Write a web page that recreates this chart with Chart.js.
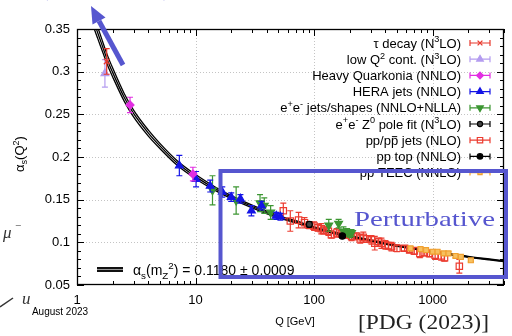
<!DOCTYPE html>
<html>
<head>
<meta charset="utf-8">
<script src="https://cdn.jsdelivr.net/npm/chart.js@4.4.0/dist/chart.umd.min.js"></script>
<style>
  html, body { margin: 0; padding: 0; background: #fff; }
  #wrap { position: relative; width: 512px; height: 336px; }
</style>
</head>
<body>
<div id="wrap"><canvas id="c" width="512" height="336"></canvas></div>
<script>
// ---- running coupling band: Q [GeV], central alpha_s, half width ----
const curveQ = [1.3, 1.4, 1.5, 1.6, 1.8, 2, 2.5, 3, 4, 5, 7, 10, 15, 20, 30, 50, 70, 100, 150, 200, 300, 500, 700, 1000, 1500, 2000, 3000, 4000];
const curveAlpha = [0.372, 0.357, 0.345, 0.334, 0.314, 0.299, 0.270, 0.251, 0.228, 0.213, 0.193, 0.177, 0.162, 0.153, 0.142, 0.130, 0.124, 0.117, 0.111, 0.107, 0.102, 0.096, 0.093, 0.089, 0.0855, 0.083, 0.080, 0.078];
const curveHalfWidth = [0.0075, 0.007, 0.0066, 0.0062, 0.0057, 0.0052, 0.0045, 0.004, 0.0035, 0.003, 0.0027, 0.0024, 0.002, 0.0018, 0.0016, 0.0014, 0.0013, 0.0012, 0.0011, 0.001, 0.0009, 0.0008, 0.0008, 0.0007, 0.0007, 0.0006, 0.0006, 0.0006];

// ---- measurements: scale Q [GeV], alpha_s, uncertainty ----
const tauQ = [1.78];
const tauAlpha = [0.312];
const tauErr = [0.015];

const lowQ2Q = [1.72];
const lowQ2Alpha = [0.298];
const lowQ2Err = [0.016];

const quarkoniaQ = [2.8, 9.5];
const quarkoniaAlpha = [0.261, 0.180];
const quarkoniaErr = [0.009, 0.008];

const heraQ = [7.3, 10.1, 13.3, 16.8, 20, 23.9, 29.6, 36, 48, 52];
const heraAlpha = [0.190, 0.174, 0.166, 0.159, 0.153, 0.151, 0.137, 0.143, 0.131, 0.130];
const heraErr = [0.012, 0.009, 0.007, 0.006, 0.005, 0.005, 0.006, 0.005, 0.004, 0.004];

const eeJetsQ = [13.9, 22, 35, 38, 43, 133, 161, 177, 190, 200, 207];
const eeJetsAlpha = [0.161, 0.149, 0.146, 0.143, 0.135, 0.120, 0.122, 0.113, 0.112, 0.110, 0.111];
const eeJetsErr = [0.017, 0.016, 0.010, 0.009, 0.008, 0.007, 0.005, 0.005, 0.004, 0.004, 0.004];

const zPoleQ = [91.2];
const zPoleAlpha = [0.121];
const zPoleErr = [0.003];

const ppJetsQ = [55, 63, 74, 83, 91, 100, 108, 115, 120, 132, 140, 155, 170, 188, 207, 228, 245, 260, 280, 305, 325, 350, 370, 400, 425, 450, 500, 580, 640, 700, 780, 850, 940, 1050, 1180, 1260, 1680];
const ppJetsAlpha = [0.137, 0.125, 0.126, 0.123, 0.120, 0.119, 0.117, 0.116, 0.114, 0.113, 0.109, 0.111, 0.110, 0.109, 0.107, 0.107, 0.104, 0.106, 0.104, 0.103, 0.099, 0.101, 0.099, 0.097, 0.096, 0.095, 0.093, 0.093, 0.091, 0.090, 0.087, 0.088, 0.087, 0.085, 0.084, 0.082, 0.072];
const ppJetsErr = [0.009, 0.012, 0.009, 0.006, 0.004, 0.005, 0.004, 0.006, 0.004, 0.005, 0.004, 0.005, 0.004, 0.004, 0.005, 0.004, 0.005, 0.006, 0.004, 0.005, 0.008, 0.004, 0.006, 0.005, 0.004, 0.005, 0.004, 0.003, 0.003, 0.004, 0.005, 0.004, 0.004, 0.005, 0.005, 0.004, 0.008];

const ppTopQ = [173];
const ppTopAlpha = [0.1075];
const ppTopErr = [0.002];

const teecQ = [650, 790, 880, 1000, 1100, 1240, 1360, 1560, 1730, 2100];
const teecAlpha = [0.093, 0.092, 0.091, 0.089, 0.089, 0.087, 0.087, 0.084, 0.083, 0.079];
const teecErr = [0.002, 0.002, 0.002, 0.002, 0.002, 0.002, 0.002, 0.002, 0.002, 0.002];

// ---- axes ----
const xTickValues = [1, 10, 100, 1000];
const xTickLabels = ['1', '10', '100', '1000'];
const yTickValues = [0.05, 0.1, 0.15, 0.2, 0.25, 0.3, 0.35];
const yTickLabels = ['0.05', '0.1', '0.15', '0.2', '0.25', '0.3', '0.35'];

// ---- legend rows (rich text segments: [text, kind]) ----
const legendLabels = [
  [['τ decay (N', 'n'], ['3', 'sup'], ['LO)', 'n']],
  [['low Q', 'n'], ['2', 'sup'], [' cont. (N', 'n'], ['3', 'sup'], ['LO)', 'n']],
  [['Heavy Quarkonia (NNLO)', 'n']],
  [['HERA jets (NNLO)', 'n']],
  [['e', 'n'], ['+', 'sup'], ['e', 'n'], ['-', 'sup'], [' jets/shapes (NNLO+NLLA)', 'n']],
  [['e', 'n'], ['+', 'sup'], ['e', 'n'], ['-', 'sup'], [' Z', 'n'], ['0', 'sup'], [' pole fit (N', 'n'], ['3', 'sup'], ['LO)', 'n']],
  [['pp/p', 'n'], ['p', 'bar'], [' jets (NLO)', 'n']],
  [['pp top (NNLO)', 'n']],
  [['pp TEEC (NNLO)', 'n']]
];

const SANS = "'Liberation Sans', Arial, Helvetica, sans-serif";
const SERIF = "'Liberation Serif', 'DejaVu Serif', serif";
Chart.defaults.font.family = SANS;
Chart.defaults.color = '#000';

const pts = (qs, as) => qs.map((q, i) => ({ x: q, y: as[i] }));

function series(label, qs, as, errs, st, order) {
  return {
    label, data: pts(qs, as), errs,
    pointStyle: st.style, rotation: st.rotation || 0,
    pointRadius: st.r, pointBorderWidth: st.bw || 1.2,
    pointBackgroundColor: st.fill, pointBorderColor: st.color,
    errColor: st.color, showLine: false, order
  };
}

const styles = {
  tau:   { style: 'crossRot', r: 4, color: '#e8382c', fill: '#e8382c', bw: 1.3 },
  lowQ2: { style: 'triangle', r: 4.5, color: '#b49cf0', fill: '#b49cf0' },
  quark: { style: 'rectRot', r: 4, color: '#e22ee2', fill: '#e22ee2' },
  hera:  { style: 'triangle', r: 4.5, color: '#1414e6', fill: '#1414e6' },
  ee:    { style: 'triangle', rotation: 180, r: 4.5, color: '#3c9632', fill: '#3c9632' },
  zpole: { style: 'circle', r: 3, color: '#000', fill: '#444' },
  ppjet: { style: 'rect', r: 4.5, color: '#ec3c30', fill: 'rgba(255,255,255,0)' },
  top:   { style: 'circle', r: 3.2, color: '#000', fill: '#000' },
  teec:  { style: 'rect', r: 3.5, color: '#f0a030', fill: '#f7c060' }
};
const legendStyles = [styles.tau, styles.lowQ2, styles.quark, styles.hera, styles.ee, styles.zpole, styles.ppjet, styles.top, styles.teec];

const bandLine = (vals, w) => ({
  data: pts(curveQ, vals), showLine: true, pointRadius: 0,
  borderColor: '#000', borderWidth: w, cubicInterpolationMode: 'monotone', order: 20
});
const upper = curveAlpha.map((a, i) => a + curveHalfWidth[i]);
const lower = curveAlpha.map((a, i) => a - curveHalfWidth[i]);

// rich text: normal / superscript / subscript / over-barred runs
function drawRich(ctx, segs, x, y, size, align, family) {
  family = family || SANS;
  const parts = segs.map(([t, k]) => {
    const s = (k === 'sup' || k === 'sub') ? size * 0.7 : size;
    ctx.font = s + 'px ' + family;
    return { t, k, s, w: ctx.measureText(t).width };
  });
  const total = parts.reduce((a, p) => a + p.w, 0);
  let cx = align === 'right' ? x - total : align === 'center' ? x - total / 2 : x;
  ctx.textAlign = 'left';
  ctx.textBaseline = 'alphabetic';
  for (const p of parts) {
    ctx.font = p.s + 'px ' + family;
    const dy = p.k === 'sup' ? -size * 0.4 : p.k === 'sub' ? size * 0.25 : 0;
    ctx.fillText(p.t, cx, y + dy);
    if (p.k === 'bar') {
      ctx.save();
      ctx.lineWidth = 1;
      ctx.strokeStyle = ctx.fillStyle;
      ctx.beginPath();
      ctx.moveTo(cx + 1, y - size * 0.62);
      ctx.lineTo(cx + p.w - 1, y - size * 0.62);
      ctx.stroke();
      ctx.restore();
    }
    cx += p.w;
  }
  return total;
}

// vertical uncertainty bars, drawn right under each dataset's markers
const errorBars = {
  id: 'errorBars',
  beforeDatasetDraw(chart, args) {
    const ds = chart.data.datasets[args.index];
    if (!ds.errs) return;
    const ctx = chart.ctx, ys = chart.scales.y;
    const meta = args.meta;
    ctx.save();
    ctx.beginPath();
    ctx.rect(chart.chartArea.left, chart.chartArea.top, chart.chartArea.right - chart.chartArea.left, chart.chartArea.bottom - chart.chartArea.top);
    ctx.clip();
    ctx.strokeStyle = ds.errColor;
    ctx.lineWidth = 1.2;
    meta.data.forEach((el, i) => {
      const v = ds.data[i].y, e = ds.errs[i];
      const y1 = ys.getPixelForValue(v + e), y2 = ys.getPixelForValue(v - e);
      ctx.beginPath();
      ctx.moveTo(el.x, y1); ctx.lineTo(el.x, y2);
      ctx.moveTo(el.x - 3, y1); ctx.lineTo(el.x + 3, y1);
      ctx.moveTo(el.x - 3, y2); ctx.lineTo(el.x + 3, y2);
      ctx.stroke();
    });
    ctx.restore();
  }
};

// frame, dotted grid and inward ticks on all four sides
const frame = {
  id: 'frame',
  beforeDatasetsDraw(chart) {
    const ctx = chart.ctx, { left, right, top, bottom } = chart.chartArea;
    const xs = chart.scales.x, ys = chart.scales.y;
    ctx.save();
    ctx.strokeStyle = '#c4c4c4';
    ctx.lineWidth = 1;
    ctx.setLineDash([1, 2]);
    yTickValues.slice(1, -1).forEach(v => {
      const y = Math.round(ys.getPixelForValue(v)) + 0.5;
      ctx.beginPath(); ctx.moveTo(left, y); ctx.lineTo(right, y); ctx.stroke();
    });
    xTickValues.slice(1).forEach(v => {
      const x = Math.round(xs.getPixelForValue(v)) + 0.5;
      ctx.beginPath(); ctx.moveTo(x, top); ctx.lineTo(x, bottom); ctx.stroke();
    });
    ctx.setLineDash([]);
    ctx.strokeStyle = '#000';
    ctx.lineWidth = 1;
    ctx.beginPath();
    for (let i = 5; i <= 35; i++) {
      const y = Math.round(ys.getPixelForValue(i / 100)) + 0.5;
      const len = i % 5 === 0 ? 7 : 4;
      ctx.moveTo(left, y); ctx.lineTo(left + len, y);
      ctx.moveTo(right, y); ctx.lineTo(right - len, y);
    }
    for (let dec = 1; dec <= 1000; dec *= 10) {
      for (let m = 1; m <= 9; m++) {
        const v = m * dec;
        if (v > xs.max) break;
        const x = Math.round(xs.getPixelForValue(v)) + 0.5;
        const len = m === 1 ? 7 : 4;
        ctx.moveTo(x, bottom); ctx.lineTo(x, bottom - len);
        ctx.moveTo(x, top); ctx.lineTo(x, top + len);
      }
    }
    ctx.stroke();
    ctx.lineWidth = 1.3;
    ctx.strokeRect(left + 0.5, top + 0.5, right - left - 1, bottom - top - 1);
    ctx.restore();
  }
};

// legend, axis titles and the annotations around the plot
const annotations = {
  id: 'annotations',
  afterDraw(chart) {
    const ctx = chart.ctx;
    ctx.save();

    // legend
    legendLabels.forEach((segs, i) => {
      const yc = 43 + i * 16.2;
      ctx.fillStyle = '#000';
      drawRich(ctx, segs, 461, yc + 4.5, 13, 'right');
      const st = legendStyles[i];
      ctx.strokeStyle = st.color;
      ctx.lineWidth = 1.2;
      ctx.beginPath();
      ctx.moveTo(470, yc); ctx.lineTo(490, yc);
      ctx.moveTo(470, yc - 3); ctx.lineTo(470, yc + 3);
      ctx.moveTo(490, yc - 3); ctx.lineTo(490, yc + 3);
      ctx.stroke();
      ctx.fillStyle = st.fill;
      ctx.lineWidth = st.bw || 1.2;
      Chart.helpers.drawPoint(ctx, { pointStyle: st.style, rotation: st.rotation || 0, radius: st.r * 0.85, borderWidth: st.bw || 1.2 }, 480, yc);
    });

    // band key
    ctx.fillStyle = '#111';
    ctx.fillRect(97, 267, 26, 5);
    ctx.fillStyle = '#999';
    ctx.fillRect(97, 269, 26, 1);
    ctx.fillStyle = '#000';
    drawRich(ctx, [['α', 'n'], ['s', 'sub'], ['(m', 'n'], ['Z', 'sub'], ['2', 'sup'], [') = 0.1180 ± 0.0009', 'n']], 133, 275, 14, 'left');

    // axis titles
    ctx.save();
    ctx.translate(20, 154);
    ctx.rotate(-Math.PI / 2);
    drawRich(ctx, [['α', 'n'], ['s', 'sub'], ['(Q', 'n'], ['2', 'sup'], [')', 'n']], 0, 4, 13, 'center');
    ctx.restore();
    drawRich(ctx, [['Q [GeV]', 'n']], 295, 325, 11, 'center');
    drawRich(ctx, [['August 2023', 'n']], 60, 315, 10, 'center');

    // reference tag
    ctx.fillStyle = '#222';
    ctx.font = '22px ' + SERIF;
    ctx.textAlign = 'left';
    ctx.textBaseline = 'alphabetic';
    let w = ctx.measureText('[PDG (2023)]').width;
    ctx.save();
    ctx.translate(358, 329);
    ctx.scale(131 / w, 1);
    ctx.fillText('[PDG (2023)]', 0, 0);
    ctx.restore();

    // surrounding marks at the left margin
    ctx.fillStyle = '#333';
    ctx.font = 'italic 17px ' + SERIF;
    ctx.fillText('μ', 3, 238);
    ctx.font = '11px ' + SERIF;
    ctx.fillText('−', 15, 229);
    ctx.font = 'italic 17px ' + SERIF;
    ctx.fillText('u', 22, 304);
    ctx.strokeStyle = '#333';
    ctx.lineWidth = 1.5;
    ctx.beginPath(); ctx.moveTo(0, 307); ctx.lineTo(13, 298); ctx.stroke();

    // highlighted perturbative region
    const blue = '#5656cf';
    ctx.strokeStyle = blue;
    ctx.lineWidth = 4;
    ctx.strokeRect(220.5, 171, 285.5, 106);
    ctx.fillStyle = blue;
    ctx.font = '22px ' + SERIF;
    w = ctx.measureText('Perturbative').width;
    ctx.save();
    ctx.translate(354, 225.5);
    ctx.scale(141 / w, 1);
    ctx.fillText('Perturbative', 0, 0);
    ctx.restore();

    // arrow towards low Q
    ctx.strokeStyle = blue;
    ctx.lineWidth = 5;
    ctx.beginPath(); ctx.moveTo(123, 65); ctx.lineTo(99, 21); ctx.stroke();
    ctx.beginPath();
    ctx.moveTo(91, 6);
    ctx.lineTo(92.5, 24.5);
    ctx.lineTo(105.5, 17.5);
    ctx.closePath();
    ctx.fill();

    // clipped brackets at the top edge
    ctx.font = '22px ' + SERIF;
    ctx.fillText('(', 41, -4.5);
    ctx.fillText(')', 163, -4.5);

    ctx.restore();
  }
};

new Chart(document.getElementById('c'), {
  type: 'scatter',
  data: {
    datasets: [
      bandLine(upper, 1.3),
      bandLine(curveAlpha, 1.3),
      bandLine(lower, 1.3),
      series('pp/pp̄ jets (NLO)', ppJetsQ, ppJetsAlpha, ppJetsErr, styles.ppjet, 9),
      series('pp TEEC (NNLO)', teecQ, teecAlpha, teecErr, styles.teec, 8),
      series('e+e- jets/shapes (NNLO+NLLA)', eeJetsQ, eeJetsAlpha, eeJetsErr, styles.ee, 7),
      series('HERA jets (NNLO)', heraQ, heraAlpha, heraErr, styles.hera, 6),
      series('Heavy Quarkonia (NNLO)', quarkoniaQ, quarkoniaAlpha, quarkoniaErr, styles.quark, 5),
      series('low Q2 cont. (N3LO)', lowQ2Q, lowQ2Alpha, lowQ2Err, styles.lowQ2, 4),
      series('tau decay (N3LO)', tauQ, tauAlpha, tauErr, styles.tau, 3),
      series('e+e- Z0 pole fit (N3LO)', zPoleQ, zPoleAlpha, zPoleErr, styles.zpole, 2),
      series('pp top (NNLO)', ppTopQ, ppTopAlpha, ppTopErr, styles.top, 1)
    ]
  },
  options: {
    responsive: false,
    animation: false,
    events: [],
    layout: { padding: { left: 0, right: 8, top: 29, bottom: 0 } },
    plugins: { legend: { display: false }, tooltip: { enabled: false } },
    scales: {
      x: {
        type: 'logarithmic', min: 1, max: 4000,
        grid: { display: false, drawTicks: false },
        border: { display: false },
        afterBuildTicks: s => { s.ticks = xTickValues.map(v => ({ value: v })); },
        afterFit: s => { s.height = 51; },
        ticks: {
          autoSkip: false, maxRotation: 0, padding: 8,
          font: { size: 13 }, color: '#000',
          callback: (v) => xTickLabels[xTickValues.indexOf(v)] ?? ''
        }
      },
      y: {
        type: 'linear', min: 0.05, max: 0.35,
        grid: { display: false, drawTicks: false },
        border: { display: false },
        afterBuildTicks: s => { s.ticks = yTickValues.map(v => ({ value: v })); },
        afterFit: s => { s.width = 77; },
        ticks: {
          autoSkip: false, padding: 7,
          font: { size: 13 }, color: '#000',
          callback: (v, i) => yTickLabels[i]
        }
      }
    }
  },
  plugins: [frame, errorBars, annotations]
});
</script>
</body>
</html>
